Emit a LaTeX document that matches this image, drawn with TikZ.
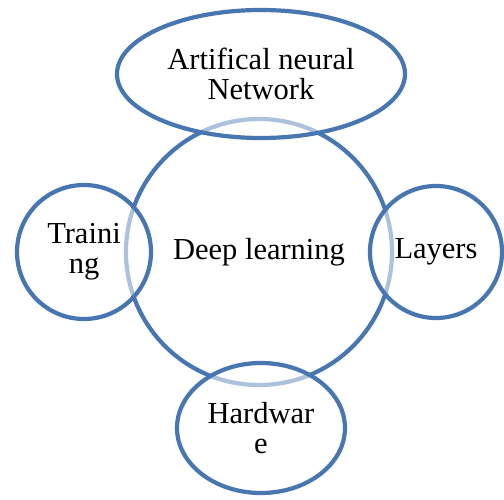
\documentclass[tikz,border=0pt]{standalone}
\usepackage{fontspec}
\setmainfont{Liberation Serif}
\usetikzlibrary{shapes.geometric}
\definecolor{ringblue}{RGB}{72,118,176}
\tikzset{
  ring/.style={draw=ringblue, line width=4.2pt, inner sep=0pt, outer sep=0pt,
    align=center, font=\fontsize{30.5}{30}\selectfont},
  over/.style={ring, fill=white, fill opacity=0.55, text opacity=1}
}
\begin{document}
\begin{tikzpicture}[x=1pt,y=-1pt]
\useasboundingbox (0,0) rectangle (504,500);
\node[ring, circle, minimum size=266pt] (deep) at (259,252) {Deep learning};
\node[over, ellipse, minimum width=288pt, minimum height=128pt] (ann) at (261,74) {Artifical neural\\Network};
\node[over, circle, minimum size=134pt] (train) at (84,252) {Traini\\ng};
\node[over, circle, minimum size=132pt] (layers) at (436,252) {Layers};
\node[over, ellipse, minimum width=168pt, minimum height=130pt] (hw) at (261,428) {Hardwar\\e};
\end{tikzpicture}
\end{document}
